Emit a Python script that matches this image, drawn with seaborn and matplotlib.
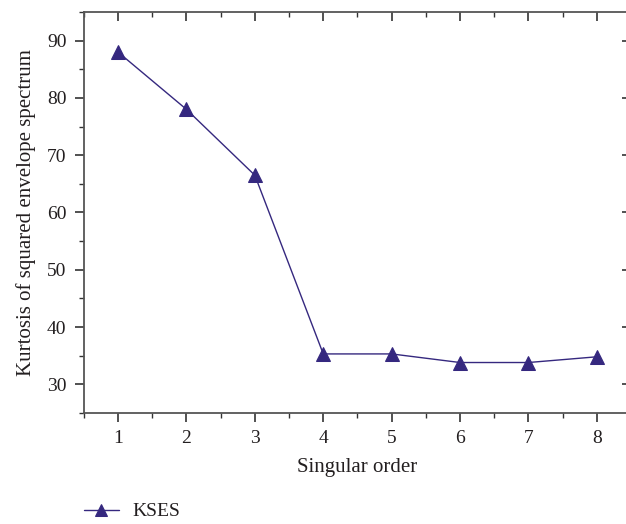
import matplotlib
matplotlib.use("Agg")
import matplotlib.pyplot as plt
import seaborn as sns
import pandas as pd
from matplotlib.ticker import MultipleLocator

# Kurtosis of the squared envelope spectrum for each singular component
orders = [1, 2, 3, 4, 5, 6, 7, 8]
kses = [88.0, 78.0, 66.5, 35.3, 35.3, 33.8, 33.8, 34.8]
series_name = "KSES"

df = pd.DataFrame({"order": orders, "value": kses, "series": series_name})

sns.set_theme(style="white")
plt.rcParams["font.family"] = ["Liberation Serif", "DejaVu Serif"]

line_color = "#35287f"
text_color = "#231f20"

fig = plt.figure(figsize=(6.26, 5.24), dpi=100)
ax = fig.add_axes([0.134, 0.212, 0.874, 0.765])

sns.lineplot(data=df, x="order", y="value", hue="series", palette=[line_color],
             marker="^", markersize=10, markeredgecolor=line_color,
             linewidth=1.0, ax=ax, legend=True)

ax.set_xlim(0.5, 8.5)
ax.set_ylim(25, 95)
ax.xaxis.set_major_locator(MultipleLocator(1))
ax.xaxis.set_minor_locator(MultipleLocator(0.5))
ax.set_yticks([30, 40, 50, 60, 70, 80, 90])
ax.yaxis.set_minor_locator(MultipleLocator(5))

for s in ax.spines.values():
    s.set_color("#555555")
    s.set_linewidth(1.3)

ax.tick_params(axis="both", which="both", bottom=True, left=True)
ax.tick_params(axis="both", which="major", direction="out", length=6.5, width=1.2,
               color="#333333", labelsize=14, labelcolor=text_color, pad=6)
ax.tick_params(axis="both", which="minor", direction="out", length=3.5, width=1.0,
               color="#333333")

# mirrored ticks pointing inward on top and right
top = ax.secondary_xaxis("top")
top.xaxis.set_major_locator(MultipleLocator(1))
top.xaxis.set_minor_locator(MultipleLocator(0.5))
top.tick_params(which="both", top=True, labeltop=False)
top.tick_params(which="major", direction="in", length=6.5, width=1.2, color="#333333")
top.tick_params(which="minor", direction="in", length=3.5, width=1.0, color="#333333")
top.spines["top"].set_visible(False)

right = ax.secondary_yaxis("right")
right.yaxis.set_major_locator(MultipleLocator(10))
right.yaxis.set_minor_locator(MultipleLocator(5))
right.tick_params(which="both", right=True, labelright=False)
right.tick_params(which="major", direction="in", length=6.5, width=1.2, color="#333333")
right.tick_params(which="minor", direction="in", length=3.5, width=1.0, color="#333333")
right.spines["right"].set_visible(False)

ax.set_xlabel("Singular order", fontsize=15, color=text_color, labelpad=8)
ax.set_ylabel("Kurtosis of squared envelope spectrum", fontsize=15, color=text_color,
              labelpad=8)

leg = ax.legend(loc="center left", bbox_to_anchor=(0.0, -0.246), frameon=False,
                fontsize=14, handlelength=1.8, handletextpad=0.7,
                borderaxespad=0, borderpad=0, labelcolor=text_color)
for h in leg.legend_handles:
    h.set_markersize(8.5)

fig.savefig("out.png", dpi=100)
